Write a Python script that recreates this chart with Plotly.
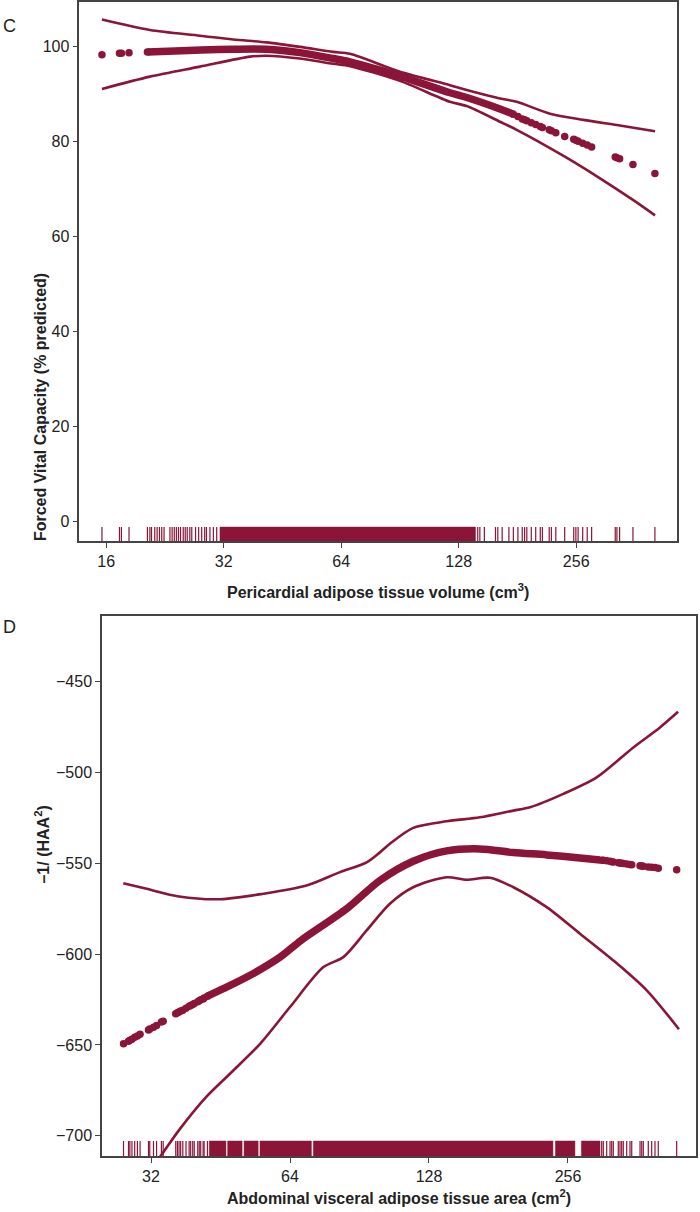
import plotly.graph_objects as go

RED = '#8a1538'
AX = '#444444'
FONT = 'Liberation Sans, Arial, sans-serif'

# ---------------- Panel C data ----------------
c_rug_x = [15.6, 17.3, 17.5, 18.3, 20.4, 20.7, 20.9, 21.3, 21.6, 21.9, 22.2, 22.5, 23.3, 23.6,
           23.9, 24.2, 24.5, 24.8, 25.2, 25.5, 25.8, 26.2, 26.5, 27.1, 27.6, 28.1, 28.6, 28.9,
           29.5, 30.1, 30.7,
           143.2, 145.0, 148.9, 159.0, 161.2, 165.4, 172.1, 176.7, 181.5, 186.2, 188.8, 191.3,
           196.4, 201.6, 207.1, 209.7, 218.3, 221.1, 227.0, 239.2, 252.3, 255.5, 258.9, 266.0,
           273.2, 280.4, 322.3, 325.5, 330.7, 357.8, 407.3]
c_rug_dense = [(31.3, 141.3)]

c_fit_line_x = [20.4, 24.0, 28.0, 33.8, 41.2, 50.2, 61.0, 67.4, 90.5, 121.6, 134.2, 163.3, 176.7]
c_fit_line_y = [98.9, 99.1, 99.3, 99.45, 99.45, 98.75, 97.5, 96.8, 93.8, 90.3, 89.3, 86.9, 85.8]

c_fit_dot_x = [15.6, 17.3, 17.5, 18.3, 20.4, 176.7, 181.5, 186.2, 188.8, 191.3, 196.4, 201.6,
               207.1, 209.7, 218.3, 221.1, 227.0, 239.2, 252.3, 255.5, 258.9, 266.0, 273.2,
               280.4, 322.3, 325.5, 330.7, 357.8, 407.3]
c_fit_dot_y = [98.3, 98.6, 98.6, 98.7, 98.9, 85.8, 85.3, 84.8, 84.6, 84.4, 84.0, 83.6,
               83.2, 83.0, 82.5, 82.3, 81.9, 81.1, 80.5, 80.3, 80.1, 79.7, 79.3,
               78.9, 76.8, 76.6, 76.4, 75.2, 73.3]

c_upper_x = [15.6, 20.7, 27.8, 33.8, 41.2, 50.2, 61.0, 67.4, 90.5, 121.6, 134.2, 163.3, 180.2,
             219.3, 266.9, 325.2, 407.6]
c_upper_y = [105.7, 103.5, 102.3, 101.5, 100.9, 99.96, 98.9, 98.5, 94.7, 91.9, 90.9, 89.1, 88.4,
             85.9, 84.6, 83.5, 82.2]

c_lower_x = [15.6, 20.7, 27.8, 37.4, 41.2, 50.2, 61.0, 67.4, 90.5, 121.6, 134.2, 163.3, 180.2,
             240.0, 294.6, 358.6, 407.6]
c_lower_y = [91.1, 93.7, 95.8, 97.9, 98.1, 97.5, 96.4, 95.9, 92.8, 88.4, 87.5, 84.2, 82.5,
             76.8, 72.3, 67.7, 64.5]

c_xticks = [16, 32, 64, 128, 256]
c_yticks = [0, 20, 40, 60, 80, 100]

# ---------------- Panel D data ----------------
d_rug_x = [27.9, 28.6, 28.8, 29.1, 29.5, 29.9, 30.3, 31.6, 31.8, 32.4, 32.9, 33.7, 34.0, 36.2,
           36.5, 36.8, 37.1, 37.5, 38.1, 38.7, 39.0, 39.4, 39.7, 40.4, 40.7, 41.0, 41.5, 41.7,
           42.4,
           302.9, 305.3, 310.5, 315.7, 318.4, 320.9, 329.0, 331.8, 334.6, 337.3, 343.1, 348.8,
           351.8, 366.7, 369.8, 372.7, 382.1, 388.6, 395.1, 401.6, 440.2]
d_rug_dense = [(42.8, 46.5), (46.9, 50.4), (50.9, 54.6), (55.1, 71.2), (71.9, 237.5),
               (240.5, 265.0), (273.7, 300.4)]

d_fit_line_x = [42.4, 45.9, 51.6, 60.9, 67.6, 84.9, 100.2, 118.3, 139.8, 165.0, 194.9, 230.2,
                271.8, 300.4]
d_fit_line_y = [-623.1, -619.0, -612.6, -601.6, -592.4, -575.0, -559.4, -548.8, -543.1, -542.0,
                -544.0, -545.3, -547.0, -548.1]

d_fit_dot_x = [27.9, 28.6, 28.8, 29.1, 29.5, 29.9, 30.3, 31.6, 31.8, 32.4, 32.9, 33.7, 34.0,
               36.2, 36.5, 36.8, 37.1, 37.5, 38.1, 38.7, 39.0, 39.4, 39.7, 40.4, 40.7, 41.0,
               41.5, 41.7, 42.4,
               302.9, 305.3, 310.5, 315.7, 318.4, 320.9, 329.0, 331.8, 334.6, 337.3, 343.1,
               348.8, 351.8, 366.7, 369.8, 372.7, 382.1, 388.6, 395.1, 401.6, 440.2]
d_fit_dot_y = [-649.3, -647.9, -647.4, -646.8, -645.7, -645.0, -644.1, -641.7, -641.2, -640.2,
               -639.2, -637.4, -636.9, -632.8, -632.3, -631.8, -631.3, -630.8, -629.8, -628.7,
               -628.2, -627.7, -627.2, -626.2, -625.6, -625.1, -624.6, -624.1, -623.1,
               -548.2, -548.3, -548.5, -548.8, -549.0, -549.2, -549.6, -549.8, -549.9, -550.0,
               -550.3, -550.6, -550.7, -551.3, -551.4, -551.5, -551.9, -552.1, -552.3, -552.6,
               -553.5]

d_upper_x = [27.87, 31.3, 36.8, 45.2, 56.0, 69.5, 82.1, 93.8, 100.2, 105.3, 118.3, 139.8, 165.0,
             194.9, 211.8, 250.1, 295.3, 354.6, 405.0, 443.3]
d_upper_y = [-560.9, -564.0, -568.2, -569.7, -566.7, -562.2, -554.8, -549.4, -543.9, -539.2,
             -530.4, -526.8, -524.6, -520.9, -519.1, -511.7, -502.6, -486.1, -475.1, -466.5]

d_lower_x = [31.8, 33.5, 36.8, 42.2, 47.5, 55.2, 64.0, 75.6, 83.5, 93.8, 105.3, 118.3, 139.8,
             154.4, 173.4, 194.9, 230.2, 271.8, 320.9, 379.1, 445.2]
d_lower_y = [-718.8, -711.5, -696.9, -678.5, -665.7, -649.2, -629.1, -607.1, -601.6, -586.9,
             -572.2, -563.1, -557.6, -559.0, -557.9, -563.1, -574.1, -588.7, -603.4, -619.9,
             -641.3]

d_xticks = [32, 64, 128, 256]
d_yticks = [-700, -650, -600, -550, -500, -450]

# ---------------- styling constants ----------------
C_YRANGE = [-4.05, 109.4]
C_XRANGE = [1.1351, 2.6665]
D_YRANGE = [-711.2, -413.7]
D_XRANGE = [1.399, 2.6855]
C_RUG_TOP = -1.1
D_RUG_TOP = -702.9

fig = go.Figure()


def add_rug(xs, dense, bottom, top, xa, ya):
    rx, ry = [], []
    for v in xs:
        rx += [v, v, None]
        ry += [bottom, top, None]
    fig.add_trace(go.Scatter(x=rx, y=ry, mode='lines', line=dict(color=RED, width=1.2),
                             xaxis=xa, yaxis=ya, hoverinfo='skip'))
    for lo, hi in dense:
        fig.add_trace(go.Scatter(x=[lo, hi, hi, lo, lo], y=[bottom, bottom, top, top, bottom],
                                 mode='lines', fill='toself', fillcolor=RED,
                                 line=dict(color=RED, width=0.5), xaxis=xa, yaxis=ya,
                                 hoverinfo='skip'))


def add_panel(xa, ya, ux, uy, lx, ly, flx, fly, fdx, fdy):
    fig.add_trace(go.Scatter(x=ux, y=uy, mode='lines', line=dict(color=RED, width=2.6, shape='spline', smoothing=0.8),
                             xaxis=xa, yaxis=ya))
    fig.add_trace(go.Scatter(x=lx, y=ly, mode='lines', line=dict(color=RED, width=2.6, shape='spline', smoothing=0.8),
                             xaxis=xa, yaxis=ya))
    fig.add_trace(go.Scatter(x=flx, y=fly, mode='lines', line=dict(color=RED, width=7.5, shape='spline', smoothing=0.8),
                             xaxis=xa, yaxis=ya))
    fig.add_trace(go.Scatter(x=fdx, y=fdy, mode='markers', marker=dict(color=RED, size=7.5),
                             xaxis=xa, yaxis=ya))


add_rug(c_rug_x, c_rug_dense, C_YRANGE[0], C_RUG_TOP, 'x', 'y')
add_panel('x', 'y', c_upper_x, c_upper_y, c_lower_x, c_lower_y,
          c_fit_line_x, c_fit_line_y, c_fit_dot_x, c_fit_dot_y)
add_rug(d_rug_x, d_rug_dense, D_YRANGE[0], D_RUG_TOP, 'x2', 'y2')
add_panel('x2', 'y2', d_upper_x, d_upper_y, d_lower_x, d_lower_y,
          d_fit_line_x, d_fit_line_y, d_fit_dot_x, d_fit_dot_y)

axis_common = dict(showline=True, mirror=True, linecolor=AX, linewidth=1.5, ticks='outside',
                   ticklen=5, tickcolor=AX, tickwidth=1, showgrid=False, zeroline=False,
                   tickfont=dict(family=FONT, size=16, color='#222222'))

fig.update_layout(
    width=700, height=1212, margin=dict(l=0, r=0, t=0, b=0),
    paper_bgcolor='white', plot_bgcolor='white', showlegend=False,
    xaxis=dict(domain=[79.3 / 700, 677 / 700], type='log', range=C_XRANGE,
               tickvals=c_xticks, ticktext=[str(v) for v in c_xticks], anchor='y', **axis_common),
    yaxis=dict(domain=[(1212 - 540) / 1212, 1.0], range=C_YRANGE, tickvals=c_yticks,
               anchor='x', **axis_common),
    xaxis2=dict(domain=[102 / 700, 696 / 700], type='log', range=D_XRANGE,
                tickvals=d_xticks, ticktext=[str(v) for v in d_xticks], anchor='y2', **axis_common),
    yaxis2=dict(domain=[56 / 1212, 597 / 1212], range=D_YRANGE, tickvals=d_yticks,
                anchor='x2', **axis_common),
)

ann_font = dict(family=FONT, size=16, color='#222222')
fig.add_annotation(x=378 / 700, y=1 - 590 / 1212, xref='paper', yref='paper', showarrow=False,
                   yanchor='middle',
                   text='<b>Pericardial adipose tissue volume (cm<sup>3</sup>)</b>', font=ann_font)
fig.add_annotation(x=30 / 700, y=1 - 270 / 1212, xref='paper', yref='paper', showarrow=False,
                   text='<b>Forced Vital Capacity (% predicted)</b>', textangle=-90, font=ann_font)
fig.add_annotation(x=399 / 700, y=1 - 1197 / 1212, xref='paper', yref='paper', showarrow=False,
                   yanchor='middle',
                   text='<b>Abdominal visceral adipose tissue area (cm<sup>2</sup>)</b>', font=ann_font)
fig.add_annotation(x=30 / 700, y=1 - 885 / 1212, xref='paper', yref='paper', showarrow=False,
                   text='<b>–1/ (HAA<sup>2</sup>)</b>', textangle=-90, font=ann_font)
fig.add_annotation(x=1 / 700, y=1 - 12 / 1212, xref='paper', yref='paper', showarrow=False,
                   xanchor='left', text='C', font=dict(family=FONT, size=18, color='#222222'))
fig.add_annotation(x=1 / 700, y=1 - 626 / 1212, xref='paper', yref='paper', showarrow=False,
                   xanchor='left', text='D', font=dict(family=FONT, size=18, color='#222222'))

fig.write_html('out.html', config={'displayModeBar': False},
               post_script="document.body.style.margin='0px';document.body.style.overflow='hidden';")
